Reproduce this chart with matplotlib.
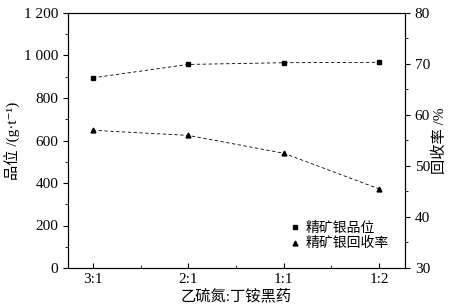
import matplotlib
matplotlib.use('Agg')
from matplotlib import pyplot as plt
from matplotlib.lines import Line2D
from matplotlib.ticker import FuncFormatter, MultipleLocator

plt.rcParams['font.family'] = ['Liberation Serif', 'Noto Sans CJK SC', 'DejaVu Sans']

ratios = ['3:1', '2:1', '1:1', '1:2']
grade = [895, 958, 966, 968]
recovery = [57.0, 56.0, 52.5, 45.5]

x = list(range(len(ratios)))

fig = plt.figure(figsize=(4.59, 3.07), dpi=100)
ax1 = fig.add_axes([68 / 459, 1 - 268 / 307, 337 / 459, 255 / 307])
ax2 = ax1.twinx()

ax1.plot(x, grade, color='black', lw=0.6, ls=(0, (4, 3)), marker='s', ms=3.5)
ax2.plot(x, recovery, color='black', lw=0.6, ls=(0, (4, 3)), marker='^', ms=3.5)

ax1.set_xlim(-0.26, 3.27)
ax1.set_ylim(0, 1200)
ax2.set_ylim(30, 80)
ax1.set_xticks(x)
ax1.set_xticklabels(ratios)
ax1.xaxis.set_minor_locator(MultipleLocator(0.5))
ax1.yaxis.set_major_locator(MultipleLocator(200))
ax1.yaxis.set_minor_locator(MultipleLocator(100))
ax2.yaxis.set_major_locator(MultipleLocator(10))
ax2.yaxis.set_minor_locator(MultipleLocator(5))
ax1.yaxis.set_major_formatter(FuncFormatter(lambda v, p: f'{int(v):,}'.replace(',', ' ')))

ax1.tick_params(axis='x', which='both', direction='in', top=False, labelsize=11)
ax1.tick_params(axis='y', which='both', direction='out', labelsize=11)
ax2.tick_params(axis='y', which='both', direction='out', labelsize=11)

ax1.set_xlabel('乙硫氮:丁铵黑药', fontsize=11, labelpad=2)
ax1.set_ylabel('品位 /(g·t⁻¹)', fontsize=11, labelpad=2)
ax2.set_ylabel('回收率 /%', fontsize=11, labelpad=2)

handles = [Line2D([], [], color='black', ls='none', marker='s', ms=3.5),
           Line2D([], [], color='black', ls='none', marker='^', ms=3.5)]
ax1.legend(handles, ['精矿银品位', '精矿银回收率'], loc='lower right', frameon=False,
           handlelength=0.8, handletextpad=0.4, labelspacing=0.1,
           bbox_to_anchor=(0.99, 0.02), prop={'family': ['Noto Sans CJK SC'], 'size': 10})

fig.savefig('out.png', dpi=100)
